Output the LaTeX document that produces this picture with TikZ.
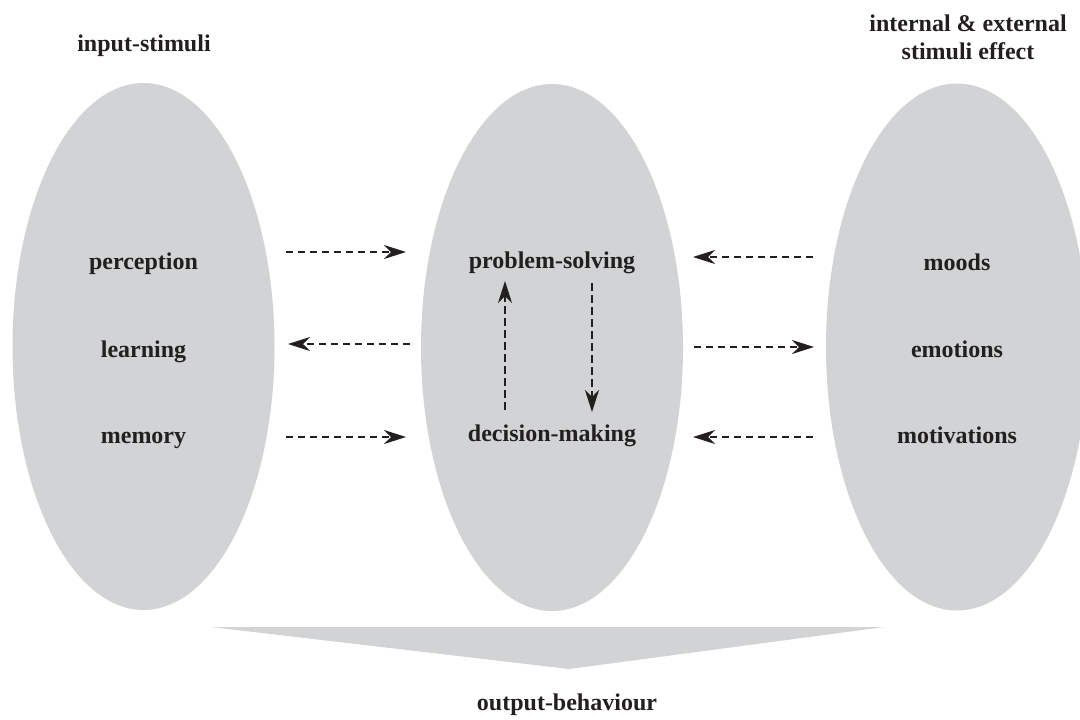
\documentclass[tikz,border=0pt]{standalone}
\usepackage{fontspec}
\setmainfont{Liberation Serif}
\usetikzlibrary{shapes.geometric,arrows.meta}
\definecolor{blobgray}{HTML}{D1D3D4}
\definecolor{ink}{HTML}{231F20}

\begin{document}
\begin{tikzpicture}[x=0.5pt,y=-0.5pt,
  blob/.style={ellipse, fill=blobgray, draw=none, inner sep=0pt,
               minimum width=131pt, minimum height=263.5pt},
  lbl/.style={font=\bfseries\fontsize{12}{14}\selectfont, text=ink,
              anchor=base, inner sep=0pt, align=center},
  flow/.style={draw=ink, line width=0.7pt, dash pattern=on 3.5pt off 2.5pt,
               -{Stealth[length=11pt,width=7pt,inset=3.5pt]}},
  loopline/.style={flow, line width=1pt, dash pattern=on 4pt off 2pt}]

\useasboundingbox (0,0) rectangle (1080,719);

% the three fields
\node[blob] (inp) at (143.5,346.5) {};
\node[blob] (cog) at (552,347.5) {};
\node[blob] (eff) at (957,347) {};

% output wedge below the fields
\coordinate (wl) at (211,627);
\coordinate (wr) at (884,627);
\coordinate (wt) at (569,669);
\fill[blobgray] (wl) -- (wr) -- (wt) -- cycle;

% headings
\node[lbl] (hin)  at (144,51) {input-stimuli};
\node[lbl] (heff) at (968,59) {internal \& external\\stimuli effect};
\node[lbl] (hout) at (567,710) {output-behaviour};

% contents of the fields
\node[lbl] (perc) at (143.5,269) {perception};
\node[lbl] (lear) at (143.5,357) {learning};
\node[lbl] (memo) at (143.5,443) {memory};
\node[lbl] (prob) at (552,268) {problem-solving};
\node[lbl] (deci) at (552,441) {decision-making};
\node[lbl] (mood) at (957,270) {moods};
\node[lbl] (emot) at (957,357) {emotions};
\node[lbl] (moti) at (957,443) {motivations};

% arrow end points
\coordinate (a1s) at (286,252); \coordinate (a1e) at (406,252);
\coordinate (a2s) at (410,344); \coordinate (a2e) at (288,344);
\coordinate (a3s) at (286,437); \coordinate (a3e) at (406,437);
\coordinate (b1s) at (813,257); \coordinate (b1e) at (693,257);
\coordinate (b2s) at (694,347); \coordinate (b2e) at (814,347);
\coordinate (b3s) at (813,437); \coordinate (b3e) at (693,437);
\coordinate (cus) at (505,410); \coordinate (cue) at (505,281);
\coordinate (cds) at (592,283); \coordinate (cde) at (592,412);

% exchanges between the fields
\draw[flow] (a1s) -- (a1e);
\draw[flow] (a2s) -- (a2e);
\draw[flow] (a3s) -- (a3e);
\draw[flow] (b1s) -- (b1e);
\draw[flow] (b2s) -- (b2e);
\draw[flow] (b3s) -- (b3e);

% loop between problem-solving and decision-making
\draw[loopline] (cus) -- (cue);
\draw[loopline] (cds) -- (cde);
\end{tikzpicture}
\end{document}
